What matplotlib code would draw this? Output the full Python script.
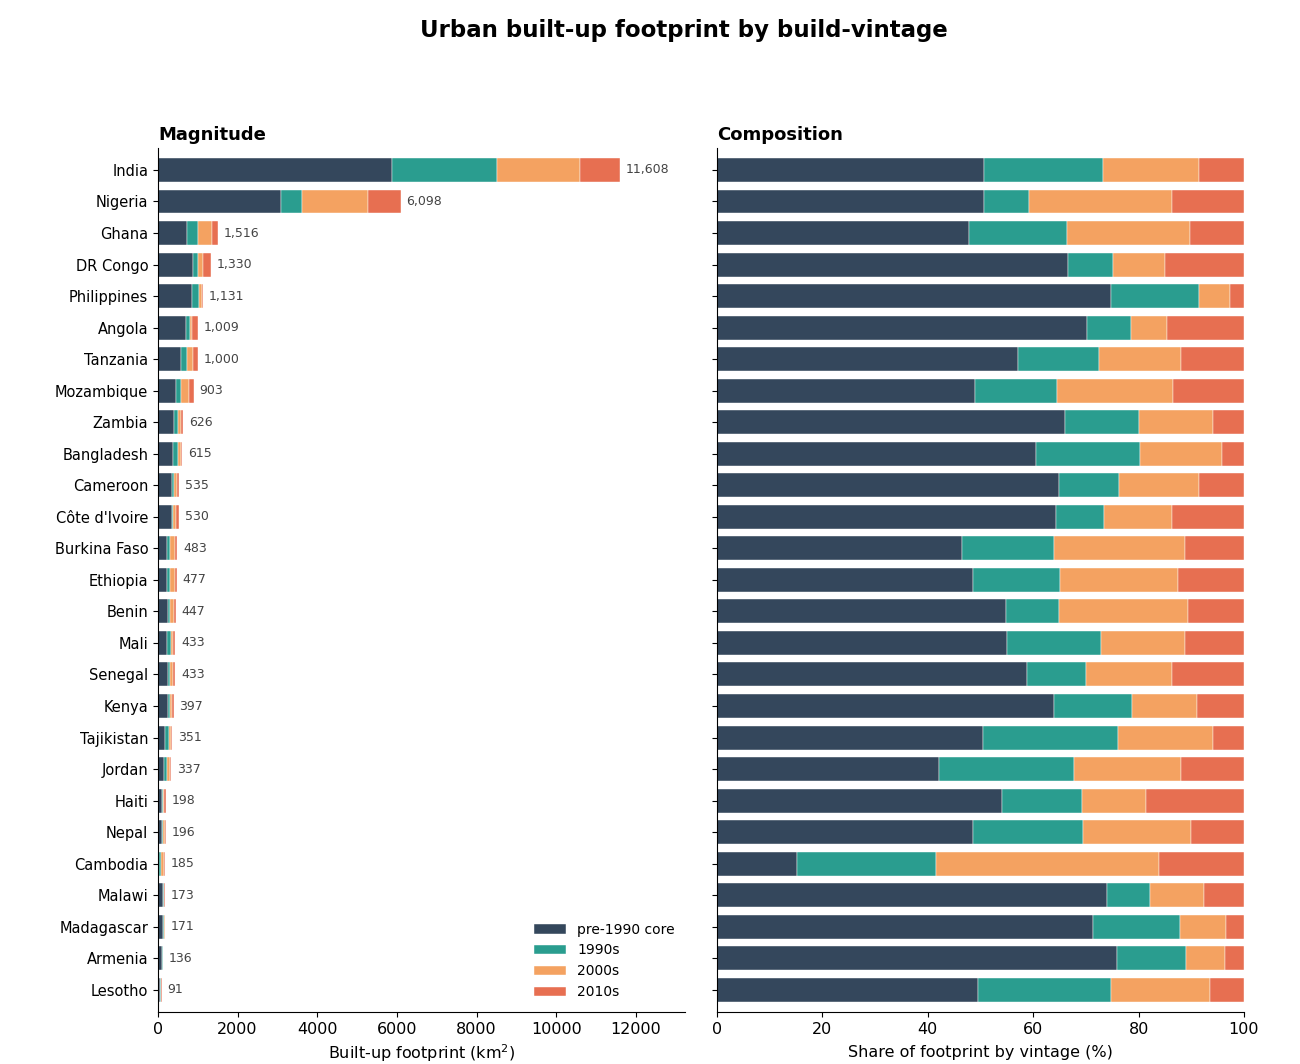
import numpy as np
import matplotlib.pyplot as plt

countries = ["India", "Nigeria", "Ghana", "DR Congo", "Philippines", "Angola", "Tanzania",
             "Mozambique", "Zambia", "Bangladesh", "Cameroon", "Côte d'Ivoire", "Burkina Faso",
             "Ethiopia", "Benin", "Mali", "Senegal", "Kenya", "Tajikistan", "Jordan", "Haiti",
             "Nepal", "Cambodia", "Malawi", "Madagascar", "Armenia", "Lesotho"]
totals = [11608, 6098, 1516, 1330, 1131, 1009, 1000, 903, 626, 615, 535, 530, 483,
          477, 447, 433, 433, 397, 351, 337, 198, 196, 185, 173, 171, 136, 91]

# share of footprint by vintage (%)
pre1990 = [50.6, 50.6, 47.8, 66.6, 74.8, 70.2, 57.1, 49.0, 66.0, 60.5, 64.9, 64.3, 46.5,
           48.5, 54.8, 55.1, 58.9, 64.0, 50.4, 42.2, 54.1, 48.5, 15.2, 74.0, 71.4, 75.9, 49.5]
s1990 = [22.7, 8.6, 18.6, 8.5, 16.7, 8.4, 15.4, 15.5, 14.0, 19.7, 11.4, 9.1, 17.5,
         16.6, 10.1, 17.8, 11.2, 14.8, 25.7, 25.5, 15.1, 20.9, 26.4, 8.2, 16.4, 13.1, 25.3]
s2000 = [18.1, 27.1, 23.4, 10.0, 5.9, 6.8, 15.6, 22.1, 14.2, 15.7, 15.1, 12.9, 24.9,
         22.4, 24.5, 15.9, 16.3, 12.2, 18.0, 20.3, 12.2, 20.5, 42.2, 10.3, 8.7, 7.4, 18.7]
s2010 = [8.6, 13.7, 10.2, 14.9, 2.6, 14.6, 11.9, 13.4, 5.8, 4.1, 8.6, 13.7, 11.1,
         12.5, 10.6, 11.2, 13.6, 9.0, 5.9, 12.0, 18.6, 10.1, 16.2, 7.5, 3.5, 3.6, 6.5]

labels = ["pre-1990 core", "1990s", "2000s", "2010s"]
colors = ["#34475c", "#2a9d8f", "#f4a261", "#e76f51"]

shares = np.array([pre1990, s1990, s2000, s2010])
shares = shares / shares.sum(axis=0) * 100
tot = np.array(totals, dtype=float)
y = np.arange(len(countries))

fig = plt.figure(figsize=(13, 10.64), dpi=100)
ax1 = fig.add_axes([0.1215, 0.049, 0.4054, 0.812])
ax2 = fig.add_axes([0.5515, 0.049, 0.4054, 0.812])

h = 0.76
left1 = np.zeros(len(countries))
left2 = np.zeros(len(countries))
for k in range(4):
    vals = tot * shares[k] / 100
    ax1.barh(y, vals, left=left1, height=h, color=colors[k], label=labels[k],
             edgecolor="white", linewidth=0.3)
    ax2.barh(y, shares[k], left=left2, height=h, color=colors[k],
             edgecolor="white", linewidth=0.3)
    left1 += vals
    left2 += shares[k]

xmax = tot.max() * 1.14
for yi, t in zip(y, tot):
    ax1.text(t + xmax * 0.011, yi, f"{int(t):,}", va="center", ha="left",
             fontsize=9, color="#444444")

for ax in (ax1, ax2):
    ax.set_ylim(len(countries) - 0.3, -0.7)
    ax.spines["top"].set_visible(False)
    ax.spines["right"].set_visible(False)
    ax.tick_params(axis="x", labelsize=11.5)

ax1.set_xlim(0, xmax)
ax1.set_yticks(y)
ax1.set_yticklabels(countries, fontsize=10.5)
ax1.set_xlabel("Built-up footprint (km$^2$)", fontsize=11.5)
ax1.set_title("Magnitude", loc="left", fontsize=13, fontweight="bold")
ax1.legend(loc="lower right", frameon=False, fontsize=10, handlelength=2.3,
           bbox_to_anchor=(1.005, 0.0))

ax2.set_xlim(0, 100)
ax2.set_yticks(y)
ax2.set_yticklabels([])
ax2.set_xlabel("Share of footprint by vintage (%)", fontsize=11.5, labelpad=6)
ax2.set_title("Composition", loc="left", fontsize=13, fontweight="bold")

fig.text(0.526, 1 - 37 / 1064, "Urban built-up footprint by build-vintage",
         fontsize=16.5, fontweight="bold", ha="center", va="baseline")

fig.savefig("out.png", dpi=100)
